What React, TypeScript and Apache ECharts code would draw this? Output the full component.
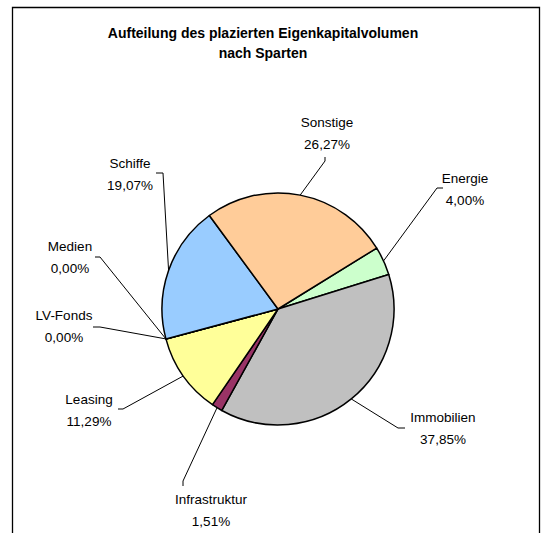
import React, { useEffect, useRef } from "react";
import * as echarts from "echarts";

const titleLines = ["Aufteilung des plazierten Eigenkapitalvolumen", "nach Sparten"];
const categories = ["Energie", "Immobilien", "Infrastruktur", "Leasing", "LV-Fonds", "Medien", "Schiffe", "Sonstige"];
const values = [4.0, 37.85, 1.51, 11.29, 0.0, 0.0, 19.07, 26.27];
const colors = ["#CCFFCC", "#C0C0C0", "#993366", "#FFFF99", "#CCFFFF", "#FF8080", "#99CCFF", "#FFCC99"];

// label placement (layout only)
const labelLayouts = [
  { x: 465, y: 189, p1: [437, 188], p2: [443, 188] },
  { x: 443, y: 428, p1: [398, 428], p2: [405, 428] },
  { x: 211, y: 510, p1: [183, 481], p2: [183, 486] },
  { x: 89, y: 410, p1: [123, 409], p2: [118, 409] },
  { x: 64, y: 326, p1: [100, 327], p2: [93, 327] },
  { x: 70, y: 257, p1: [100, 257], p2: [95, 257] },
  { x: 130, y: 174, p1: [163, 173], p2: [156, 173] },
  { x: 327, y: 133, p1: [325, 161], p2: [325, 157] },
];

const CX = 278;
const CY = 309;
const R = 116;
const START = 31.7;

const fmt = (v: number) => v.toFixed(2).replace(".", ",") + "%";

export default function App() {
  const ref = useRef<HTMLDivElement>(null);
  useEffect(() => {
    if (!ref.current) return;
    const chart = echarts.init(ref.current, null, { renderer: "svg" });
    const total = values.reduce((a, b) => a + b, 0);
    const edgePoint = (idx: number) => {
      let before = 0;
      for (let i = 0; i < idx; i++) before += values[i];
      const mid = before + values[idx] / 2;
      const ang = ((START - (mid / total) * 360) * Math.PI) / 180;
      return [CX + R * Math.cos(ang), CY - R * Math.sin(ang)];
    };
    chart.setOption({
      animation: false,
      backgroundColor: "#ffffff",
      graphic: [
        {
          type: "rect",
          shape: { x: 12.5, y: 7.5, width: 527, height: 560 },
          style: { fill: "none", stroke: "#000", lineWidth: 1.3 },
          silent: true,
        },
        {
          type: "text",
          x: 263,
          y: 23,
          style: {
            text: titleLines.join("\n"),
            textAlign: "center",
            textVerticalAlign: "top",
            font: "bold 14px 'Liberation Sans', Arial, sans-serif",
            lineHeight: 20,
            fill: "#000",
          },
        },
      ],
      series: [
        {
          type: "pie",
          center: [CX, CY],
          radius: R,
          startAngle: START,
          clockwise: true,
          avoidLabelOverlap: false,
          minShowLabelAngle: -1,
          itemStyle: { borderColor: "#000", borderWidth: 1.5 },
          label: {
            show: true,
            position: "outside",
            formatter: (p: any) => `${p.name}\n${fmt(p.value)}`,
            color: "#000",
            fontFamily: "'Liberation Sans', Arial, sans-serif",
            fontSize: 13.5,
            lineHeight: 22,
            align: "center",
          },
          labelLine: {
            show: true,
            length: 10,
            length2: 10,
            lineStyle: { color: "#000", width: 1 },
          },
          labelLayout: (params: any) => {
            const L = labelLayouts[params.dataIndex];
            const p0 = edgePoint(params.dataIndex);
            return {
              x: L.x,
              y: L.y,
              align: "center",
              verticalAlign: "middle",
              labelLinePoints: [p0, L.p1, L.p2],
            };
          },
          emphasis: { disabled: true },
          data: categories.map((c, i) => ({
            name: c,
            value: values[i],
            itemStyle: { color: colors[i] },
          })),
        },
      ],
    });
    return () => chart.dispose();
  }, []);
  return (
    <div
      ref={ref}
      style={{ position: "absolute", left: 0, top: 0, width: 550, height: 533 }}
    />
  );
}
